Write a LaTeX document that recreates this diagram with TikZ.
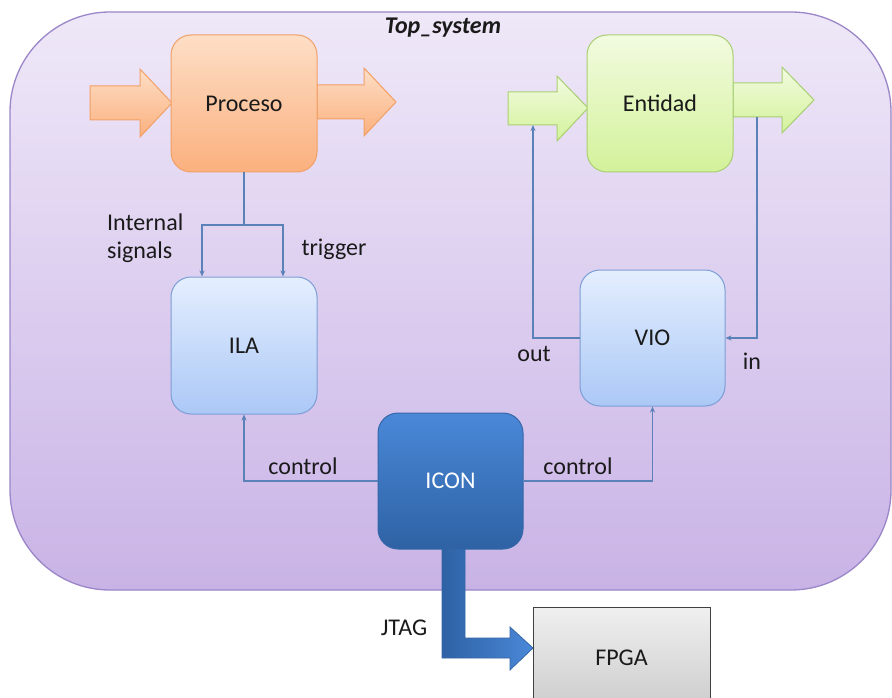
\documentclass[tikz,border=0pt]{standalone}
\usepackage{fontspec}
\setmainfont{Carlito}
\usetikzlibrary{arrows.meta}
\definecolor{conn}{HTML}{5A82B8}
\definecolor{txt}{HTML}{1A1A1A}
\tikzset{
  box/.style={rectangle, rounded corners=20pt, minimum width=146pt, minimum height=137pt, inner sep=0pt, line width=1pt, font=\fontsize{24}{28}\selectfont, text=txt},
  procbox/.style={box, top color=orangeT, bottom color=orangeB, draw=orangeD},
  entbox/.style={box, top color=greenT, bottom color=greenB, draw=greenD},
  bluebox/.style={box, top color=blueT, bottom color=blueB, draw=blueD},
  iconbox/.style={box, top color=darkT, bottom color=darkB, draw=darkD, text=white},
  conline/.style={draw=conn, line width=1.2pt},
  conarrow/.style={conline, -{Stealth[length=6pt,width=5pt]}},
  lbl/.style={font=\fontsize{24}{28}\selectfont, text=txt, inner sep=0pt},
}
\definecolor{orangeT}{HTML}{FDDEC6}
\definecolor{orangeB}{HTML}{FBB07E}
\definecolor{orangeD}{HTML}{F2A066}
\definecolor{greenT}{HTML}{F2FBE0}
\definecolor{greenB}{HTML}{D3F29A}
\definecolor{greenD}{HTML}{A9CF72}
\definecolor{blueT}{HTML}{E4EEFE}
\definecolor{blueB}{HTML}{ABC8F6}
\definecolor{blueD}{HTML}{7C9ED6}
\definecolor{darkT}{HTML}{4A88D8}
\definecolor{darkB}{HTML}{2E62A4}
\definecolor{darkD}{HTML}{3567A8}
\definecolor{outerT}{HTML}{EFE8F8}
\definecolor{outerB}{HTML}{C9B3E6}
\definecolor{outerD}{HTML}{9A86C8}
\begin{document}
\begin{tikzpicture}[x=1pt,y=-1pt]
\useasboundingbox (0,0) rectangle (892,698);
\clip (0,0) rectangle (892,698);
\fill[white] (0,0) rectangle (892,698);
% outer system
\path[top color=outerT, bottom color=outerB, draw=outerD, line width=1.3pt, rounded corners=100pt] (10,12) rectangle (891,590);
\node[font=\bfseries\itshape\fontsize{24}{28}\selectfont, text=txt] (title) at (443,28) {Top\_system};
% fat arrows for Proceso
\path[top color=orangeT, bottom color=orangeB, draw=orangeD, line width=1pt]
  (90,86) -- (140,86) -- (140,69) -- (172,103) -- (140,137) -- (140,120) -- (90,120) -- cycle;
\path[top color=orangeT, bottom color=orangeB, draw=orangeD, line width=1pt]
  (317,85) -- (364,85) -- (364,68) -- (396,102) -- (364,136) -- (364,119) -- (317,119) -- cycle;
% fat arrows for Entidad
\path[top color=greenT, bottom color=greenB, draw=greenD, line width=1pt]
  (508,92) -- (557,92) -- (557,76) -- (588,108) -- (557,141) -- (557,125) -- (508,125) -- cycle;
\path[top color=greenT, bottom color=greenB, draw=greenD, line width=1pt]
  (733,83) -- (782,83) -- (782,67) -- (814,100) -- (782,133) -- (782,117) -- (733,117) -- cycle;
% JTAG arrow
\path[left color=darkB, right color=darkT, draw=darkD, line width=0.8pt]
  (442,540) -- (442,658) -- (510,658) -- (510,670) -- (533,648) -- (510,627) -- (510,638) -- (465,638) -- (465,540) -- cycle;
% boxes
\node[procbox] (proc) at (244,103.5) {Proceso};
\node[entbox] (ent) at (660,103.5) {Entidad};
\node[bluebox] (ila) at (244,345.5) {ILA};
\node[bluebox, minimum width=145pt, minimum height=136pt] (vio) at (652.5,338) {VIO};
\node[iconbox, minimum width=145pt, minimum height=136pt] (icon) at (450.5,481) {ICON};
\node[rectangle, minimum width=177pt, minimum height=102pt, inner sep=0pt, top color=gray!12, bottom color=gray!40, draw=black!75, line width=1pt, font=\fontsize{24}{28}\selectfont, text=txt] (fpga) at (621.5,658) {FPGA};
% connectors
\coordinate (split) at (244,225);
\coordinate (eout) at (757,117);
\coordinate (ein) at (533,125);
\draw[conline] (proc.south) -- (split);
\draw[conarrow] (split) -| ([xshift=-42pt]ila.north);
\draw[conarrow] (split) -| ([xshift=39pt]ila.north);
\draw[conarrow] (eout) |- (vio.east);
\draw[conarrow] (vio.west) -| (ein);
\draw[conarrow] (icon.west) -| (ila.south);
\draw[conarrow] (icon.east) -| (vio.south);
% labels
\node[lbl, align=left, anchor=west] (intl) at (107,238) {Internal\\signals};
\node[lbl] (trig) at (334,249) {trigger};
\node[lbl] (outl) at (534,354) {out};
\node[lbl] (inl) at (752,361) {in};
\node[lbl] (ctl1) at (303,466) {control};
\node[lbl] (ctl2) at (578,466) {control};
\node[lbl] (jtag) at (404,628) {JTAG};
\end{tikzpicture}
\end{document}
